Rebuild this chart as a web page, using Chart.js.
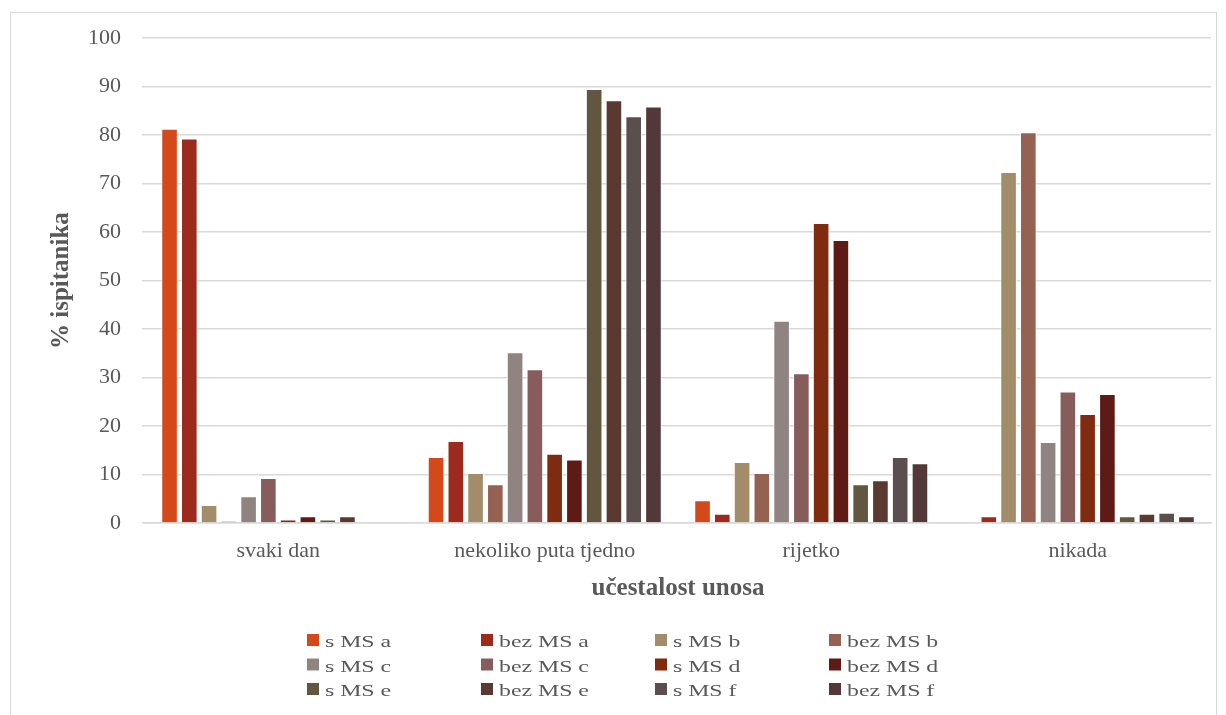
<!DOCTYPE html>
<html>
<head>
<meta charset="utf-8">
<script src="https://cdn.jsdelivr.net/npm/chart.js@4/dist/chart.umd.min.js"></script>
<style>
  html, body { margin: 0; padding: 0; background: #fff; }
  #frame {
    position: absolute; left: 10px; top: 12px;
    width: 1205px; height: 710px;
    border: 1px solid #d9d9d9; border-bottom: none;
  }
  canvas { display: block; }
</style>
</head>
<body>
<div id="frame"><canvas id="chart" width="1205" height="702"></canvas></div>
<script>
// frequency of intake, % of respondents

const categories = ["svaki dan", "nekoliko puta tjedno", "rijetko", "nikada"];

const seriesNames = [
  "s MS a", "bez MS a", "s MS b", "bez MS b",
  "s MS c", "bez MS c", "s MS d", "bez MS d",
  "s MS e", "bez MS e", "s MS f", "bez MS f"
];

const seriesColors = [
  "#d4491a", "#9c2b1e", "#a38c6a", "#956252",
  "#908482", "#875d5c", "#7e2b10", "#5e1a14",
  "#625640", "#5a3930", "#5a4e4e", "#523838"
];

// one array per category, in the order of seriesNames
const svakiDan   = [81.3, 79.3, 3.7, 0.4, 5.5, 9.3, 0.7, 1.4, 0.7, 1.4, 0, 0];
const nekoliko   = [13.6, 16.9, 10.3, 8.0, 35.2, 31.7, 14.3, 13.1, 89.5, 87.2, 83.9, 85.9];
const rijetko    = [4.7, 1.9, 12.6, 10.3, 41.7, 30.9, 61.9, 58.4, 8.0, 8.8, 13.6, 12.3];
const nikada     = [0, 1.4, 72.4, 80.6, 16.7, 27.1, 22.5, 26.6, 1.4, 1.9, 2.1, 1.4];

const yTicks = [0, 10, 20, 30, 40, 50, 60, 70, 80, 90, 100];

const serif = "'Liberation Serif', 'Times New Roman', serif";
const grey = "#595959";

const datasets = seriesNames.map((name, i) => ({
  label: name,
  data: [svakiDan[i], nekoliko[i], rijetko[i], nikada[i]],
  backgroundColor: seriesColors[i],
  borderColor: "rgba(255,255,255,0.75)",
  borderWidth: 1,
  barPercentage: 0.84,
  categoryPercentage: 0.89
}));

// legend in a 4 column grid under the axis title
const gridLegend = {
  id: "gridLegend",
  afterDraw(chart) {
    const ctx = chart.ctx;
    const startX = 296, colW = 174, startY = 627, rowH = 24.5;
    ctx.save();
    ctx.font = "17px " + serif;
    ctx.textBaseline = "middle";
    ctx.textAlign = "left";
    chart.data.datasets.forEach((ds, i) => {
      const x = startX + (i % 4) * colW;
      const y = startY + Math.floor(i / 4) * rowH;
      ctx.fillStyle = ds.backgroundColor;
      ctx.fillRect(x, y - 6, 12, 12);
      ctx.fillStyle = grey;
      ctx.save();
      ctx.translate(x + 18, y + 3);
      ctx.scale(1.4, 1);
      ctx.fillText(ds.label, 0, 0);
      ctx.restore();
    });
    ctx.restore();
  }
};

new Chart(document.getElementById("chart"), {
  type: "bar",
  data: { labels: categories, datasets: datasets },
  plugins: [gridLegend],
  options: {
    responsive: false,
    animation: false,
    layout: { padding: { top: 10, right: 5, left: 0, bottom: 110 } },
    plugins: {
      legend: { display: false },
      tooltip: { enabled: false }
    },
    scales: {
      x: {
        grid: { display: false },
        border: { display: true, color: "#d9d9d9", width: 1.5 },
        ticks: { color: grey, font: { family: serif, size: 22 }, padding: 7 },
        title: {
          display: true,
          text: "učestalost unosa",
          color: grey,
          font: { family: serif, size: 25, weight: "bold" },
          padding: { top: 0, bottom: 1 }
        },
        afterFit(scale) { scale.height = 82; }
      },
      y: {
        min: 0,
        max: 100,
        afterBuildTicks(scale) { scale.ticks = yTicks.map(v => ({ value: v })); },
        // long tick slot, only the last 3px of it visible next to the plot
        grid: {
          color: "#d9d9d9", lineWidth: 1.5, tickLength: 12,
          tickBorderDash: [3, 20], tickBorderDashOffset: 14
        },
        border: { display: false },
        ticks: { color: grey, font: { family: serif, size: 22 }, padding: 12 },
        title: {
          display: true,
          text: "% ispitanika",
          color: grey,
          font: { family: serif, size: 25, weight: "bold" },
          padding: { top: 36, bottom: 0 }
        },
        afterFit(scale) { scale.width = 134; }
      }
    }
  }
});
</script>
</body>
</html>
